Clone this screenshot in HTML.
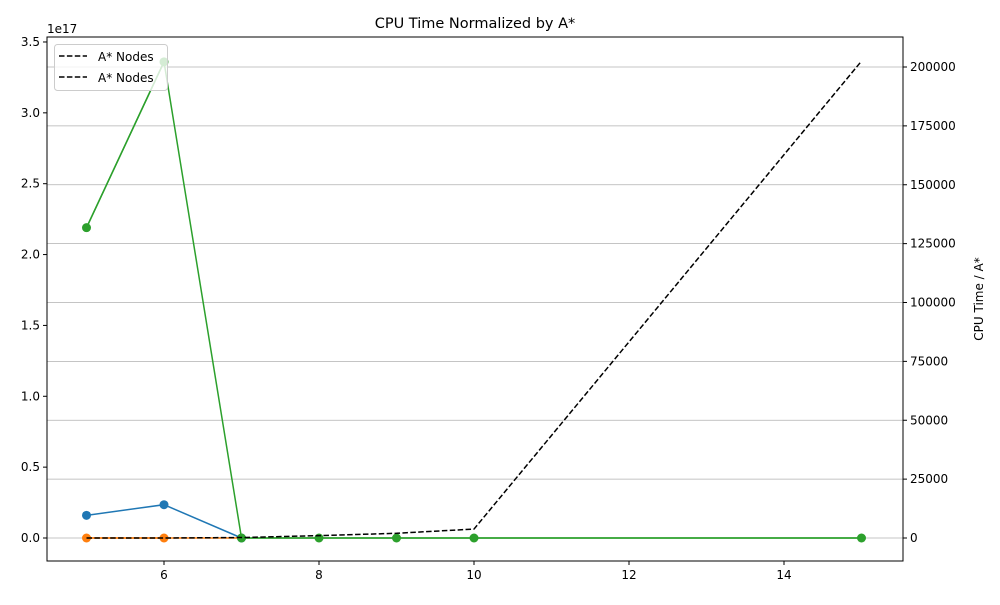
<!DOCTYPE html>
<html><head><meta charset="utf-8"><style>
body{margin:0;background:#fff;font-family:"Liberation Sans","DejaVu Sans",sans-serif}
svg text{font-family:"DejaVu Sans","Liberation Sans",sans-serif;font-size:12px}
</style></head><body>
<svg id="c" width="1000" height="600"></svg>
<script>
const xs=[5,6,7,8,9,10,15];
const blueX=[5,6,7], blueY=[0.16,0.235,0];
const orangeX=[5,6,7], orangeY=[0,0,0];
const greenX=[5,6,7,8,9,10,15], greenY=[2.19,3.36,0,0,0,0,0];
const nodesX=[5,6,7,8,9,10,15], nodesY=[0,0,200,1000,2000,3800,202500];
const xTicks=[6,8,10,12,14];
const leftTicks=[0,0.5,1,1.5,2,2.5,3,3.5];
const rightTicks=[0,25000,50000,75000,100000,125000,150000,175000,200000];
const L=47,R=903,T=37,B=561;
const X=v=>86.5+(v-5)*77.5;
const YL=v=>538-v*141.72;
const YR=v=>538-v*(58.875/25000);
const s=document.getElementById('c');const NS='http://www.w3.org/2000/svg';
function el(t,a,p){const e=document.createElementNS(NS,t);for(const k in a)e.setAttribute(k,a[k]);(p||s).appendChild(e);return e;}
for(const t of rightTicks){const g=el('line',{x1:L,x2:R,y1:YR(t),y2:YR(t),stroke:'#b0b0b0','stroke-width':0.8});

}
function series(xa,ya,color,name,markers,fn){
const p=el('polyline',{points:xa.map((x,i)=>X(x)+','+fn(ya[i])).join(' '),fill:'none',stroke:color,'stroke-width':1.5});


if(markers)xa.forEach((x,i)=>{const c=el('circle',{cx:X(x),cy:fn(ya[i]),r:4.5,fill:color});

});}
series(blueX,blueY,'#1f77b4','blue-series',true,YL);
series(orangeX.slice(0,2),orangeY.slice(0,2),'#ff7f0e','orange-series',true,YL);
series(orangeX,orangeY,'#ff7f0e','orange-series',false,YL);
series(greenX,greenY,'#2ca02c','green-series',false,YL);
series(greenX.slice(2),greenY.slice(2),'#2ca02c','green-series',true,YL);
series(greenX.slice(0,2),greenY.slice(0,2),'#2ca02c','green-series',true,YL);
const d=el('polyline',{points:nodesX.map((x,i)=>X(x)+','+YR(nodesY[i])).join(' '),fill:'none',stroke:'#000','stroke-width':1.5,'stroke-dasharray':'5.5,2.4'});


el('rect',{x:L,y:T,width:R-L,height:B-T,fill:'none',stroke:'#000','stroke-width':1});
for(const t of xTicks){el('line',{x1:X(t),x2:X(t),y1:B,y2:B+4,stroke:'#000'});const tx=el('text',{x:X(t),y:B+18,'text-anchor':'middle'});tx.textContent=t;

}
for(const t of leftTicks){el('line',{x1:L-4,x2:L,y1:YL(t),y2:YL(t),stroke:'#000'});const tx=el('text',{x:L-7,y:YL(t)+4,'text-anchor':'end'});tx.textContent=t.toFixed(1);

}
for(const t of rightTicks){el('line',{x1:R,x2:R+4,y1:YR(t),y2:YR(t),stroke:'#000'});const tx=el('text',{x:R+7,y:YR(t)+4});tx.textContent=t;

}
</script>
<svg width="1000" height="600" style="position:absolute;left:0;top:0">
<text x="47" y="33" style="font-size:12px;font-family:'DejaVu Sans',sans-serif">1e17</text>
<text x="475" y="28" text-anchor="middle" style="font-size:14.5px;font-family:'DejaVu Sans',sans-serif">CPU Time Normalized by A*</text>
<text transform="translate(983,299) rotate(-90)" text-anchor="middle" style="font-size:12px;font-family:'DejaVu Sans',sans-serif">CPU Time / A*</text>
<g>
<rect x="54.5" y="44.5" width="113" height="46" rx="3" fill="#fff" fill-opacity="0.8" stroke="#ccc"/>
<line x1="59" x2="87" y1="56" y2="56" stroke="#000" stroke-width="1.5" stroke-dasharray="5.5,2.4"/>
<text x="98" y="61" style="font-size:12px;font-family:'DejaVu Sans',sans-serif">A* Nodes</text>
<line x1="59" x2="87" y1="77" y2="77" stroke="#000" stroke-width="1.5" stroke-dasharray="5.5,2.4"/>
<text x="98" y="82" style="font-size:12px;font-family:'DejaVu Sans',sans-serif">A* Nodes</text>
</g>
</svg>
</body></html>
